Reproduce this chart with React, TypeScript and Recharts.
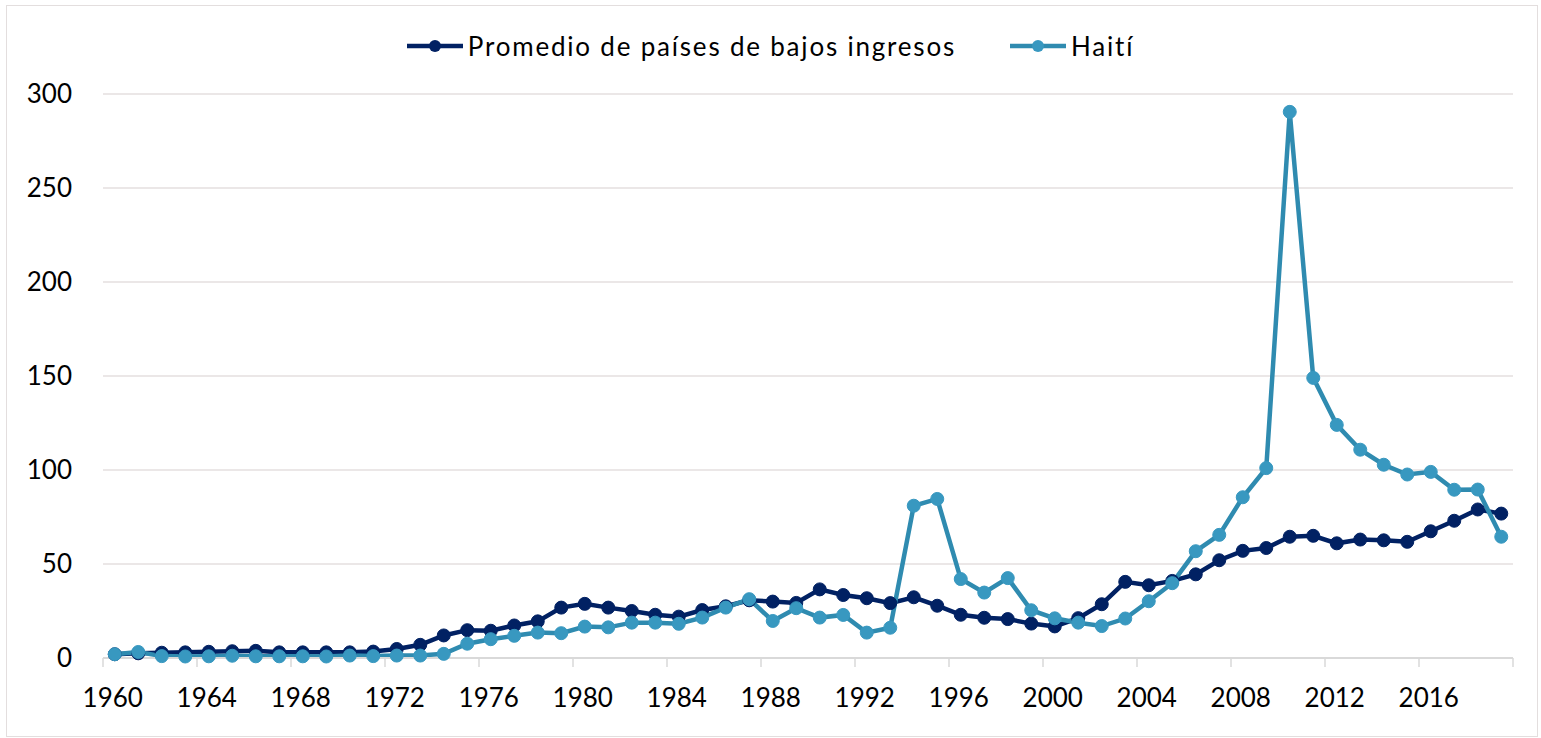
import { LineChart, Line, XAxis, YAxis, CartesianGrid, Legend } from "recharts"

const YEARS = [
  "1960", "1961", "1962", "1963", "1964", "1965", "1966", "1967", "1968", "1969",
  "1970", "1971", "1972", "1973", "1974", "1975", "1976", "1977", "1978", "1979",
  "1980", "1981", "1982", "1983", "1984", "1985", "1986", "1987", "1988", "1989",
  "1990", "1991", "1992", "1993", "1994", "1995", "1996", "1997", "1998", "1999",
  "2000", "2001", "2002", "2003", "2004", "2005", "2006", "2007", "2008", "2009",
  "2010", "2011", "2012", "2013", "2014", "2015", "2016", "2017", "2018", "2019",
]

// Promedio de países de bajos ingresos
const PROMEDIO = [
  2, 2.5, 2.8, 3, 3.3, 3.6, 3.8, 3, 3, 3,
  3, 3.4, 4.8, 7, 12, 14.8, 14.5, 17.3, 19.5, 26.8,
  28.8, 26.8, 25, 23, 22, 25.5, 27.5, 30.7, 30, 29.3,
  36.5, 33.5, 31.8, 29.2, 32.3, 27.8, 23, 21.4, 20.7, 18.3,
  16.8, 21.2, 28.6, 40.5, 38.7, 41, 44.5, 52, 57, 58.5,
  64.5, 65, 61, 63, 62.6, 61.8, 67.4, 73, 79, 76.8,
]

const HAITI = [
  2, 3.2, 1, 0.8, 0.9, 1.2, 0.9, 0.9, 0.9, 0.8,
  1.3, 1, 1.3, 1.3, 2.2, 7.6, 10, 11.8, 13.5, 13.2,
  16.7, 16.3, 18.8, 18.8, 18.2, 21.5, 26.8, 31.3, 19.7, 26.5,
  21.5, 22.9, 13.5, 16.1, 81, 84.6, 42, 34.8, 42.5, 25.4,
  21.1, 18.8, 17, 21, 30.2, 39.8, 56.8, 65.5, 85.5, 101,
  290.5, 149, 124, 110.8, 102.8, 97.6, 99, 89.5, 89.6, 64.5,
]

const Y_TICKS = [0, 50, 100, 150, 200, 250, 300]

const SERIES = [
  { key: "promedio", name: "Promedio de países de bajos ingresos", stroke: "#012163", dot: "#012163" },
  { key: "haiti", name: "Haití", stroke: "#2f8bb0", dot: "#3898c0" },
]

const data = YEARS.map((year, i) => ({ year, promedio: PROMEDIO[i], haiti: HAITI[i] }))

const FONT = "Lato, 'Open Sans', sans-serif"
const AXIS_GRAY = "#d9d9d9"

function XTick(props: any) {
  const { x, y, payload } = props
  const half = payload.offset || 0
  const last = payload.value === "2016"
  return (
    <g>
      <line x1={x - half} x2={x - half} y1={y} y2={y + 9} stroke={AXIS_GRAY} strokeWidth={1.5} />
      {last && (
        <line x1={x + half * 7} x2={x + half * 7} y1={y} y2={y + 9} stroke={AXIS_GRAY} strokeWidth={1.5} />
      )}
      <text x={x - 2} y={y + 49} textAnchor="middle" fontSize={26} fontFamily={FONT} fill="#000">
        {payload.value}
      </text>
    </g>
  )
}

function LegendContent() {
  return (
    <div style={{ display: "flex", justifyContent: "center", alignItems: "center", gap: 54, fontFamily: FONT, fontSize: 26, letterSpacing: "1.8px", color: "#000", lineHeight: "32px" }}>
      {SERIES.map((s) => (
        <div key={s.key} style={{ display: "flex", alignItems: "center" }}>
          <svg width={56} height={16} style={{ marginRight: 5 }}>
            <line x1={0} x2={56} y1={8} y2={8} stroke={s.stroke} strokeWidth={4.5} />
            <circle cx={28} cy={8} r={6} fill={s.dot} />
          </svg>
          <span>{s.name}</span>
        </div>
      ))}
    </div>
  )
}

export default function App() {
  return (
    <div style={{ position: "absolute", left: 0, top: 0, width: 1541, height: 738, background: "#fff" }}>
      <div style={{ position: "absolute", left: 6, top: 5, width: 1530, height: 730, border: "1.5px solid #e3dede" }} />
      <LineChart width={1541} height={738} data={data} margin={{ top: 94, right: 28, bottom: 20, left: 0 }}>
        <CartesianGrid vertical={false} stroke="#e4dfdf" strokeWidth={1.5} />
        <XAxis
          dataKey="year"
          scale="band"
          interval={3}
          height={60}
          tickSize={0}
          tickMargin={0}
          tickLine={false}
          axisLine={{ stroke: AXIS_GRAY, strokeWidth: 2 }}
          tick={<XTick />}
        />
        <YAxis
          domain={[0, 300]}
          ticks={Y_TICKS}
          width={103}
          axisLine={false}
          tickLine={false}
          tickSize={0}
          tickMargin={31}
          tick={{ fontSize: 26, fontFamily: FONT, fill: "#000" }}
        />
        <Legend verticalAlign="middle" wrapperStyle={{ top: 30, left: 0, width: 1541 }} content={<LegendContent />} />
        {SERIES.map((s) => (
          <Line
            key={s.key}
            dataKey={s.key}
            name={s.name}
            stroke={s.stroke}
            strokeWidth={4.5}
            dot={{ r: 6.5, fill: s.dot, stroke: s.dot, strokeWidth: 1 }}
            activeDot={false}
            isAnimationActive={false}
          />
        ))}
      </LineChart>
    </div>
  )
}
